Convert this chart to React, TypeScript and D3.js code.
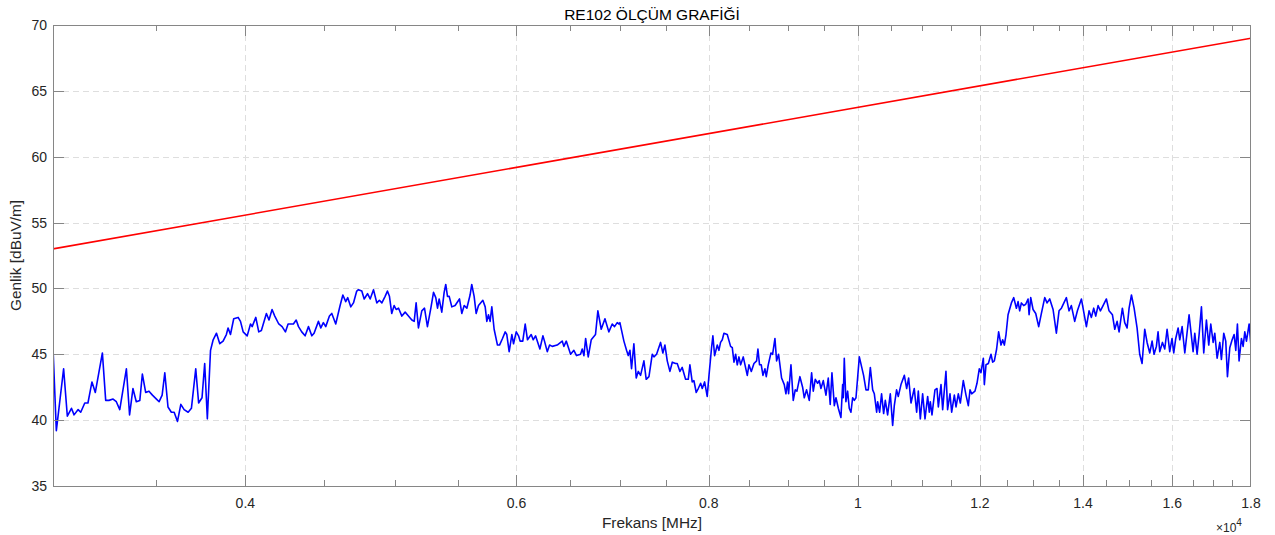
import { useEffect, useRef } from 'react';
import * as d3 from 'd3';

const chartTitle = 'RE102 ÖLÇÜM GRAFİĞİ';
const xLabel = 'Frekans [MHz]';
const yLabel = 'Genlik [dBuV/m]';

const freqDomain = [3000, 18000];
const levelDomain = [35, 70];
const majorFreqTicks = [4000, 6000, 8000, 10000, 12000, 14000, 16000, 18000];
const minorFreqTicks = [3500, 4500, 5000, 5500, 6500, 7000, 7500, 8500, 9000, 9500, 10500, 11000, 11500,
    12500, 13000, 13500, 14500, 15000, 15500, 16500, 17000, 17500];
const levelTicks = [35, 40, 45, 50, 55, 60, 65, 70];

// limit line (red)
const limitFreq = [3000, 18000];
const limitLevel = [53, 69];

// measured trace (blue): [MHz, dBuV/m]
const measured = [
    [3000, 45.5], [3015, 39.2], [3048, 43.9], [3065, 40.3], [3084, 40.9], [3096, 40.4], [3115, 40.8], [3127, 40.6],
    [3146, 41.3], [3161, 41.3], [3180, 42.9], [3196, 42.1], [3230, 45.1], [3246, 41.5], [3262, 41.5], [3282, 41.6],
    [3298, 41.4], [3315, 40.8], [3348, 43.9], [3364, 40.4], [3381, 42.4], [3398, 41.4], [3416, 41.5], [3429, 43.5],
    [3446, 42.1], [3463, 42.2], [3481, 41.9], [3502, 41.6], [3516, 41.4], [3532, 41.9], [3546, 43.6], [3563, 41.0],
    [3581, 40.6], [3596, 40.6], [3614, 39.9], [3632, 41.2], [3650, 40.8], [3672, 40.6], [3690, 40.9], [3714, 43.9],
    [3730, 41.3], [3749, 41.7], [3764, 44.3], [3779, 40.1], [3797, 45.3], [3812, 46.1], [3831, 46.6], [3850, 45.8],
    [3869, 46.0], [3888, 46.5], [3898, 47.0], [3912, 46.5], [3931, 47.7], [3957, 47.8], [3971, 47.5], [3987, 46.7],
    [4011, 46.4], [4031, 47.3], [4041, 47.1], [4063, 47.8], [4081, 46.7], [4097, 46.8], [4128, 48.1], [4144, 47.6],
    [4163, 48.4], [4180, 47.9], [4205, 47.3], [4226, 47.1], [4247, 46.7], [4264, 47.3], [4286, 47.3],
    [4298, 47.3], [4316, 47.6], [4331, 47.1], [4352, 46.7], [4374, 46.4], [4396, 47.1], [4418, 46.4], [4433, 46.6],
    [4462, 47.5], [4478, 47.0], [4495, 47.4], [4511, 47.1], [4536, 47.9], [4552, 48.1], [4579, 47.3], [4609, 48.7],
    [4628, 49.5], [4648, 49.0], [4662, 49.3], [4683, 48.6], [4702, 48.9], [4725, 49.8], [4737, 49.9], [4761, 49.8],
    [4778, 49.2], [4802, 49.6], [4821, 49.2], [4845, 49.9], [4869, 48.9], [4888, 49.1], [4906, 48.9], [4930, 49.4],
    [4947, 49.8], [4962, 49.4], [4979, 48.1], [4997, 48.7], [5012, 48.4], [5030, 48.5], [5055, 47.9], [5080, 48.2],
    [5097, 48.0], [5131, 47.6], [5149, 47.5], [5164, 48.9], [5182, 47.0], [5208, 48.3], [5229, 48.5], [5252, 47.1],
    [5279, 48.5], [5300, 49.7], [5318, 49.3], [5332, 48.5], [5345, 49.2], [5366, 48.2], [5385, 49.7], [5398, 50.3],
    [5412, 49.4], [5426, 49.4], [5447, 48.6], [5474, 48.7], [5510, 49.2], [5529, 48.1], [5549, 48.7], [5571, 48.5],
    [5598, 49.5], [5612, 50.3], [5632, 49.4], [5649, 48.1], [5669, 48.7], [5706, 49.1], [5726, 48.6], [5740, 47.5],
    [5754, 48.0], [5768, 47.5], [5783, 48.6], [5803, 46.9], [5832, 45.7], [5850, 45.7], [5876, 46.2], [5900, 46.7],
    [5914, 46.5], [5935, 45.2], [5959, 46.5], [5974, 45.8], [5998, 46.7], [6019, 46.4], [6033, 46.0], [6057, 46.0],
    [6079, 47.3], [6100, 46.1],
    [6134, 46.5], [6152, 46.1], [6174, 46.4], [6214, 45.4], [6242, 46.4], [6257, 46.0], [6283, 45.2], [6305, 45.7],
    [6330, 45.6], [6377, 45.7], [6425, 46.0], [6441, 45.6], [6464, 46.0], [6506, 45.0], [6538, 45.3], [6564, 44.9],
    [6604, 45.0], [6620, 45.4], [6637, 44.9], [6654, 46.2], [6680, 44.8], [6710, 46.1], [6753, 46.5], [6777, 48.3],
    [6811, 46.9], [6849, 47.7], [6889, 46.7], [6924, 47.3], [6948, 47.1], [6976, 47.4], [6994, 47.3], [7004, 47.4],
    [7046, 46.0], [7074, 45.3], [7092, 44.9], [7110, 45.3], [7127, 43.9], [7152, 45.8], [7177, 43.2], [7199, 43.7],
    [7224, 43.4], [7260, 44.5], [7285, 43.1], [7315, 43.3], [7351, 45.0], [7370, 44.8], [7399, 45.0], [7443, 45.9],
    [7469, 45.1], [7492, 45.7], [7518, 44.5], [7548, 43.7], [7575, 44.4], [7612, 44.3], [7631, 44.3], [7662, 43.7],
    [7688, 44.0], [7727, 43.1], [7758, 43.1], [7777, 44.2], [7804, 42.9], [7824, 43.0], [7851, 42.1], [7875, 42.4],
    [7903, 42.8], [7922, 42.4], [7950, 42.9], [7981, 41.8], [8001, 43.3], [8033, 45.5], [8049, 46.4], [8070, 44.9],
    [8102, 45.7], [8122, 45.3], [8142, 45.9], [8163, 46.1], [8183, 46.6], [8224, 46.5], [8265, 45.6], [8286, 45.5],
    [8307, 44.4], [8328, 45.0], [8348, 44.2], [8369, 44.8], [8390, 44.2], [8423, 44.8], [8474, 43.4], [8495, 44.2],
    [8525, 43.7], [8559, 44.3], [8593, 44.5], [8610, 45.4], [8631, 44.2], [8653, 44.2], [8675, 43.4], [8701, 43.9],
    [8718, 43.3],
    [8744, 44.2], [8779, 45.1], [8801, 45.0], [8832, 46.2], [8854, 44.5], [8880, 45.0], [8898, 44.2], [8920, 43.2],
    [8956, 42.7], [8978, 42.0], [9001, 42.9], [9014, 42.0], [9046, 44.2], [9077, 41.5], [9104, 42.3], [9127, 42.2],
    [9168, 43.3], [9205, 42.5], [9228, 41.7], [9260, 42.3], [9297, 41.5], [9330, 43.6], [9353, 42.2], [9381, 43.1],
    [9414, 42.8], [9437, 43.0], [9461, 42.4], [9494, 43.0], [9532, 41.9], [9565, 43.2], [9593, 41.2], [9618, 43.6],
    [9652, 41.1], [9676, 41.7], [9710, 40.9], [9748, 40.2], [9773, 42.7], [9782, 41.7], [9797, 44.7], [9821, 41.4],
    [9846, 42.2], [9870, 40.9], [9895, 40.6], [9920, 41.7], [9945, 41.5], [9970, 41.7], [10020, 44.8], [10084, 43.4],
    [10120, 42.3], [10155, 42.3], [10186, 44.0], [10222, 42.3], [10247, 42.0], [10283, 40.6], [10298, 41.4],
    [10329, 40.6], [10359, 42.0], [10391, 40.5], [10417, 41.5], [10453, 40.4], [10495, 42.0], [10532, 39.6],
    [10558, 41.1], [10594, 42.3], [10621, 41.8], [10664, 42.7], [10718, 43.4], [10755, 42.4], [10787, 43.2],
    [10825, 41.3], [10878, 42.4], [10917, 40.6], [10944, 42.2], [10977, 40.1], [11015, 42.0], [11054, 40.1],
    [11098, 41.8], [11125, 40.6], [11142, 41.4], [11170, 40.4], [11220, 42.3], [11254, 42.4], [11277, 41.0],
    [11322, 42.7], [11350, 40.8], [11406, 43.7], [11434, 40.8], [11475, 42.0], [11504, 40.6], [11550, 41.9],
    [11579, 41.0], [11619, 42.0], [11654, 41.3], [11706, 43.0], [11753, 41.9], [11794, 41.1], [11824, 42.3],
    [11853, 42.0], [11912, 42.2], [11948, 42.8], [11989, 43.9], [12019, 43.6], [12062, 44.7], [12080, 42.7],
    [12110, 44.2], [12153, 44.3], [12201, 45.0], [12231, 44.4], [12262, 44.5], [12304, 45.4], [12341, 46.7],
    [12385, 45.7], [12416, 46.1], [12447, 45.7], [12478, 46.5],
    [12516, 48.0], [12579, 48.9], [12623, 49.3], [12673, 48.5], [12705, 49.0], [12736, 48.3], [12768, 48.9],
    [12812, 48.7], [12851, 48.8], [12896, 49.2], [12916, 48.0], [12948, 49.3], [12993, 48.4], [13045, 48.1],
    [13103, 47.1], [13156, 48.1], [13222, 49.3], [13268, 48.9], [13321, 49.2], [13388, 48.4], [13454, 46.6],
    [13508, 48.3], [13556, 48.5], [13657, 49.3], [13711, 48.3], [13759, 48.7], [13828, 47.5], [13884, 48.3],
    [13967, 49.2], [14037, 47.8], [14072, 47.1], [14128, 48.3], [14177, 47.8], [14227, 48.5], [14270, 47.9],
    [14320, 48.7], [14370, 48.3], [14427, 48.7], [14499, 49.2], [14557, 48.3], [14631, 48.0], [14682, 46.9],
    [14733, 47.5], [14777, 46.7], [14850, 48.5], [14902, 47.4], [14955, 47.0], [15000, 48.5], [15053, 49.5],
    [15113, 48.5], [15180, 47.0], [15240, 45.0], [15294, 44.3], [15355, 46.9], [15409, 45.9], [15471, 45.1],
    [15525, 46.0], [15571, 45.0], [15625, 45.6], [15664, 46.7], [15704, 45.2], [15767, 45.9], [15822, 45.4],
    [15877, 46.9], [15940, 45.2], [15995, 46.2], [16036, 45.1], [16084, 46.2], [16141, 47.0], [16181, 46.1],
    [16238, 47.1], [16303, 45.1], [16408, 48.0], [16507, 45.2], [16548, 46.6], [16606, 45.0], [16656, 46.5],
    [16714, 48.6], [16772, 45.1], [16839, 47.6], [16898, 45.7], [16949, 47.3], [17009, 45.9], [17051, 46.6],
    [17111, 44.7], [17179, 45.9], [17221, 44.6], [17281, 46.6], [17333, 46.0], [17377, 43.3], [17438, 45.5],
    [17499, 46.1], [17551, 46.5], [17595, 45.3], [17638, 47.3], [17682, 44.5], [17744, 46.2], [17789, 45.6],
    [17834, 46.7], [17878, 46.0], [17950, 47.3], [18000, 45.6],
];

const W = 1275;
const H = 535;
const FONT = '"Liberation Sans", Arial, Helvetica, sans-serif';

function RE102Chart() {
    const svgRef = useRef(null);

    useEffect(() => {
        if (!svgRef.current) return;
        const svg = d3.select(svgRef.current);
        svg.selectAll('*').remove();

        const left = 53, right = 1251, top = 25, bottom = 486;

        const x = d3.scaleLog().domain(freqDomain).range([left, right]);
        const y = d3.scaleLinear().domain(levelDomain).range([bottom, top]);

        svg.append('rect').attr('width', W).attr('height', H).attr('fill', '#ffffff');

        // grid
        const grid = svg.append('g')
            .attr('stroke', '#dedede')
            .attr('stroke-width', 1)
            .attr('stroke-dasharray', '6,4');
        grid.selectAll('.gx').data(majorFreqTicks.filter(d => d < freqDomain[1]))
            .join('line')
            .attr('x1', d => Math.round(x(d)) + 0.5).attr('x2', d => Math.round(x(d)) + 0.5)
            .attr('y1', top).attr('y2', bottom);
        grid.selectAll('.gy').data(levelTicks.filter(d => d > levelDomain[0] && d < levelDomain[1]))
            .join('line')
            .attr('class', 'gy')
            .attr('x1', left).attr('x2', right)
            .attr('y1', d => Math.round(y(d)) + 0.5).attr('y2', d => Math.round(y(d)) + 0.5);

        svg.append('clipPath').attr('id', 'plot-clip')
            .append('rect').attr('x', left).attr('y', top)
            .attr('width', right - left).attr('height', bottom - top);

        const plot = svg.append('g').attr('clip-path', 'url(#plot-clip)');

        const limitLine = d3.line()
            .x((_, i) => x(limitFreq[i]))
            .y(d => y(d));
        plot.append('path')
            .attr('d', limitLine(limitLevel))
            .attr('fill', 'none')
            .attr('stroke', '#ff0000')
            .attr('stroke-width', 1.6);

        const measLine = d3.line()
            .x(d => x(d[0]))
            .y(d => y(d[1]));
        plot.append('path')
            .attr('d', measLine(measured))
            .attr('fill', 'none')
            .attr('stroke', '#0000ff')
            .attr('stroke-width', 1.6)
            .attr('stroke-linejoin', 'round');

        // box + ticks
        const axisColor = '#868686';
        svg.append('rect')
            .attr('x', left + 0.5).attr('y', top + 0.5)
            .attr('width', right - left - 1).attr('height', bottom - top)
            .attr('fill', 'none').attr('stroke', axisColor).attr('stroke-width', 1);

        const ticks = svg.append('g').attr('stroke', axisColor).attr('stroke-width', 1);
        const major = 11, minor = 6;
        const xt = (list, len) => {
            list.forEach(f => {
                const px = Math.round(x(f)) + 0.5;
                ticks.append('line').attr('x1', px).attr('x2', px).attr('y1', bottom).attr('y2', bottom - len);
                ticks.append('line').attr('x1', px).attr('x2', px).attr('y1', top).attr('y2', top + len);
            });
        };
        xt(majorFreqTicks.filter(d => d < freqDomain[1]), major);
        xt(minorFreqTicks, minor);
        levelTicks.forEach(v => {
            const py = Math.round(y(v)) + 0.5;
            ticks.append('line').attr('x1', left).attr('x2', left + major).attr('y1', py).attr('y2', py);
            ticks.append('line').attr('x1', right).attr('x2', right - major).attr('y1', py).attr('y2', py);
        });

        const textColor = '#262626';
        svg.append('g').selectAll('text').data(majorFreqTicks).join('text')
            .attr('x', d => x(d)).attr('y', 508)
            .attr('text-anchor', 'middle')
            .attr('font-family', FONT).attr('font-size', 14).attr('fill', textColor)
            .text(d => `${d / 10000}`);

        svg.append('g').selectAll('text').data(levelTicks).join('text')
            .attr('x', left - 6).attr('y', d => y(d))
            .attr('dy', '0.36em')
            .attr('text-anchor', 'end')
            .attr('font-family', FONT).attr('font-size', 14).attr('fill', textColor)
            .text(d => d);

        const exp = svg.append('text')
            .attr('x', 1216).attr('y', 532)
            .attr('font-family', FONT).attr('font-size', 12).attr('fill', textColor);
        exp.append('tspan').text('×10');
        exp.append('tspan').attr('dy', -6).attr('font-size', 10).text('4');

        svg.append('text')
            .attr('x', (left + right) / 2).attr('y', 20)
            .attr('text-anchor', 'middle')
            .attr('font-family', FONT).attr('font-size', 15.5).attr('fill', '#000000')
            .text(chartTitle);

        svg.append('text')
            .attr('x', (left + right) / 2).attr('y', 528)
            .attr('text-anchor', 'middle')
            .attr('font-family', FONT).attr('font-size', 15.4).attr('fill', textColor)
            .text(xLabel);

        svg.append('text')
            .attr('transform', `translate(21, ${(top + bottom) / 2}) rotate(-90)`)
            .attr('text-anchor', 'middle')
            .attr('font-family', FONT).attr('font-size', 15.4).attr('fill', textColor)
            .text(yLabel);
    }, []);

    return <svg ref={svgRef} width={W} height={H} style={{ display: 'block' }}></svg>;
}

export default function App() {
    return (
        <div style={{ position: 'fixed', left: 0, top: 0, width: W, height: H, background: '#fff' }}>
            <RE102Chart />
        </div>
    );
}
